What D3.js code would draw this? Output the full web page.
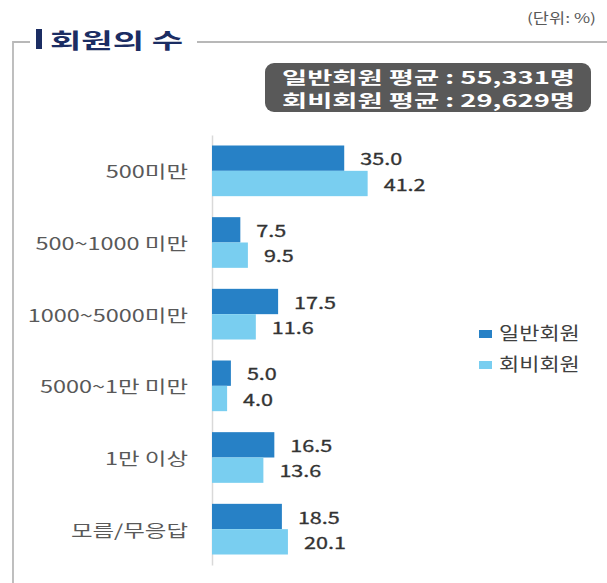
<!DOCTYPE html>
<html>
<head>
<meta charset="utf-8">
<script src="https://cdn.jsdelivr.net/npm/d3@7"></script>
<style>
  html, body { margin: 0; padding: 0; background: #fff; }
  svg text { font-family: "Noto Sans CJK KR", "Noto Sans", sans-serif; }
</style>
</head>
<body>
<div id="graph"></div>
<script>
const title = '회원의 수'
const unitLabel = '(단위: %)'
const summaryLines = ['일반회원 평균 : 55,331명', '회비회원 평균 : 29,629명']
const seriesNames = ['일반회원', '회비회원']
const categories = ['500미만', '500~1000 미만', '1000~5000미만', '5000~1만 미만', '1만 이상', '모름/무응답']
const general = [35.0, 7.5, 17.5, 5.0, 16.5, 18.5]
const paid = [41.2, 9.5, 11.6, 4.0, 13.6, 20.1]

const width = 607; const height = 583
const colors = ['#2781c6', '#79cef0']
const lineColor = '#b8b8b8'

const rows = categories.map((c, i) => ({ cat: c, values: [general[i], paid[i]] }))

const svg = d3.select('#graph').append('svg')
  .attr('width', width).attr('height', height)

// stretched text like the source (wide glyphs)
function wideText (g, x, y, str, k) {
  return g.append('text')
    .attr('transform', 'translate(' + x + ',' + y + ') scale(' + k + ',1)')
    .attr('dominant-baseline', 'central')
    .text(str)
}

// frame around the chart
svg.append('path')
  .attr('d', 'M13,583 V42 H30 M197,42 H' + width)
  .attr('fill', 'none')
  .attr('stroke', lineColor)
  .attr('stroke-width', 1.8)

svg.append('rect')
  .attr('x', 36).attr('y', 29).attr('width', 6).attr('height', 20)
  .attr('fill', '#1b2d63')

svg.append('text')
  .attr('x', 50).attr('y', 39)
  .attr('dominant-baseline', 'central')
  .attr('textLength', 133).attr('lengthAdjust', 'spacingAndGlyphs')
  .style('font-size', '21px').style('font-weight', 'bold')
  .style('fill', '#1b2d63')
  .text(title)

wideText(svg, 596, 17, unitLabel, 1.3)
  .attr('text-anchor', 'end')
  .style('font-size', '13.5px').style('fill', '#595959')

// summary box
svg.append('rect')
  .attr('x', 265).attr('y', 63).attr('width', 326).attr('height', 49)
  .attr('rx', 9)
  .attr('fill', '#595959')

svg.selectAll('text.summary')
  .data(summaryLines)
  .enter().append('text')
  .attr('class', 'summary')
  .attr('x', 282)
  .attr('y', (d, i) => 76 + i * 23)
  .attr('dominant-baseline', 'central')
  .attr('textLength', 293).attr('lengthAdjust', 'spacingAndGlyphs')
  .style('font-size', '17px').style('font-weight', 'bold')
  .style('fill', '#fff')
  .text(d => d)

const yScale = d3.scaleBand()
  .domain(categories)
  .range([135, 565])
  .paddingInner(0.293)
  .paddingOuter(0.1465)

const ySub = d3.scaleBand()
  .domain([0, 1])
  .range([0, yScale.bandwidth()])

const xScale = d3.scaleLinear()
  .domain([0, 45])
  .range([212, 382])

// category axis
const yAxis = d3.axisLeft(yScale).tickSize(0).tickPadding(24)
const axisG = svg.append('g')
  .attr('transform', 'translate(' + xScale(0) + ',0)')
  .call(yAxis)
axisG.select('.domain').attr('stroke', '#d9d9d9').attr('stroke-width', 1.5)
axisG.selectAll('.tick text').remove()
axisG.selectAll('.tick').each(function (d) {
  wideText(d3.select(this), -24, 0, d, 1.38)
    .attr('text-anchor', 'end')
    .style('font-size', '17px').style('fill', '#595959')
})

const groups = svg.selectAll('g.row')
  .data(rows)
  .enter().append('g')
  .attr('class', 'row')
  .attr('transform', d => 'translate(0,' + yScale(d.cat) + ')')

groups.selectAll('rect')
  .data(d => d.values)
  .enter().append('rect')
  .attr('x', xScale(0))
  .attr('y', (d, i) => ySub(i))
  .attr('width', d => xScale(d) - xScale(0))
  .attr('height', ySub.bandwidth())
  .attr('fill', (d, i) => colors[i])

groups.selectAll('g.val')
  .data(d => d.values)
  .enter().append('g')
  .attr('class', 'val')
  .each(function (d, i) {
    wideText(d3.select(this), xScale(d) + 16, ySub(i) + ySub.bandwidth() / 2, d.toFixed(1), 1.35)
      .style('font-size', '16px').style('fill', '#333')
      .style('stroke', '#333').style('stroke-width', 0.3)
  })

// legend
const legend = svg.append('g')
  .attr('transform', 'translate(479, 334)')

legend.selectAll('rect')
  .data(seriesNames)
  .enter().append('rect')
  .attr('x', 0)
  .attr('y', (d, i) => i * 31 - 4)
  .attr('width', 13).attr('height', 8)
  .attr('fill', (d, i) => colors[i])

legend.selectAll('g.item')
  .data(seriesNames)
  .enter().append('g')
  .attr('class', 'item')
  .each(function (d, i) {
    wideText(d3.select(this), 20, i * 31 - 2, d, 1.22)
      .style('font-size', '18px').style('fill', '#404040')
  })
</script>
</body>
</html>
